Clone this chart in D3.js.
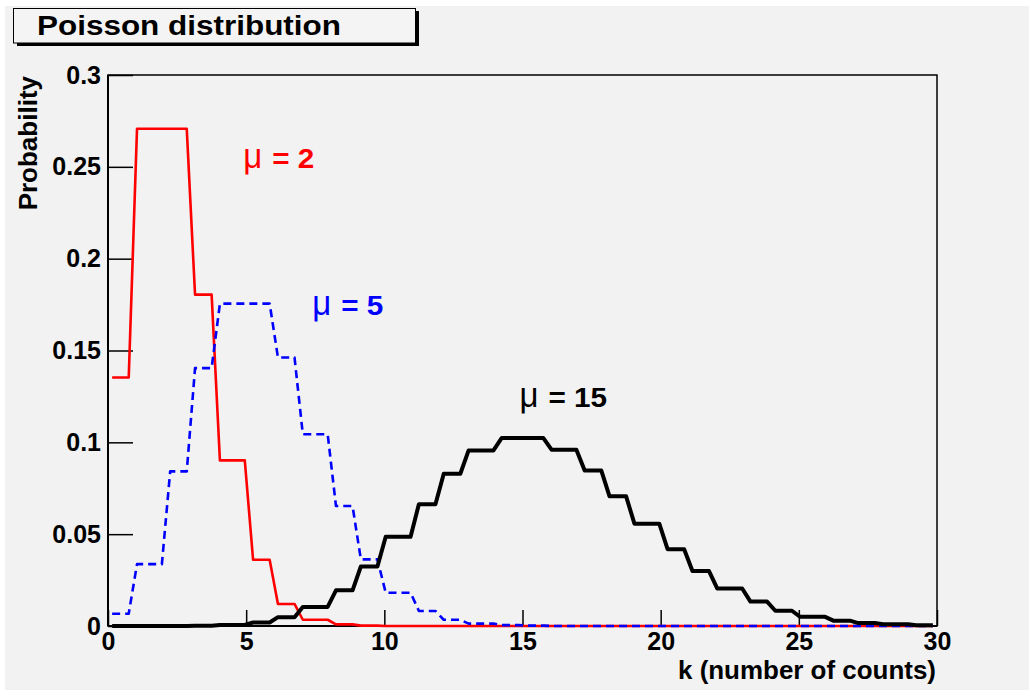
<!DOCTYPE html>
<html>
<head>
<meta charset="utf-8">
<script src="https://cdn.jsdelivr.net/npm/d3@7"></script>
<style>
  body { margin: 0; background: #ffffff; }
  svg { display: block; }
  text { font-family: Arial, "Liberation Sans", Helvetica, sans-serif; }
</style>
</head>
<body>
<svg width="1029" height="690"></svg>
<script>
    // P(k) for k = 0..29
    var kValues = [0, 1, 2, 3, 4, 5, 6, 7, 8, 9, 10, 11, 12, 13, 14,
                   15, 16, 17, 18, 19, 20, 21, 22, 23, 24, 25, 26, 27, 28, 29];
    var mu2 = [0.1353, 0.2707, 0.2707, 0.1804, 0.0902, 0.0361, 0.0120, 0.0034, 0.0009, 0.0002,
               0, 0, 0, 0, 0, 0, 0, 0, 0, 0, 0, 0, 0, 0, 0, 0, 0, 0, 0, 0];
    var mu5 = [0.0067, 0.0337, 0.0842, 0.1404, 0.1755, 0.1755, 0.1462, 0.1044, 0.0653, 0.0363,
               0.0181, 0.0082, 0.0034, 0.0013, 0.0005, 0.0002, 0, 0, 0, 0,
               0, 0, 0, 0, 0, 0, 0, 0, 0, 0];
    var mu15 = [0, 0, 0, 0.0002, 0.0006, 0.0019, 0.0048, 0.0104, 0.0194, 0.0324,
                0.0486, 0.0663, 0.0829, 0.0956, 0.1024, 0.1024, 0.0960, 0.0847, 0.0706, 0.0557,
                0.0418, 0.0299, 0.0204, 0.0133, 0.0083, 0.0050, 0.0029, 0.0016, 0.0009, 0.0004];

    var xMajor = [0, 5, 10, 15, 20, 25, 30];
    var yMajor = [0, 0.05, 0.1, 0.15, 0.2, 0.25, 0.3];
    var yLabels = ["0", "0.05", "0.1", "0.15", "0.2", "0.25", "0.3"];

    var series = [
        { name: "2",  values: mu2,  color: "#ff0000", width: 2.6, dash: null,  lx: 5,   ly: 0.25 },
        { name: "5",  values: mu5,  color: "#0000ff", width: 2.6, dash: "8,5", lx: 7.5, ly: 0.17 },
        { name: "15", values: mu15, color: "#000000", width: 4,   dash: null,  lx: 15,  ly: 0.12 }
    ];

    var nBins = 100;

    var svg = d3.select("svg");
    var x = d3.scaleLinear().domain([0, 30]).range([108, 937]);
    var y = d3.scaleLinear().domain([0, 0.3]).range([626, 75]);

    // pad background
    svg.append("rect")
        .attr("x", 5).attr("y", 6)
        .attr("width", 1024).attr("height", 684)
        .attr("fill", "#f2f2f2");

    // title box with shadow
    svg.append("rect")
        .attr("x", 17).attr("y", 11)
        .attr("width", 402).attr("height", 35)
        .attr("fill", "#000");
    svg.append("rect")
        .attr("x", 13.5).attr("y", 8.5)
        .attr("width", 402).attr("height", 34.5)
        .attr("fill", "#f4f4f4")
        .attr("stroke", "#000").attr("stroke-width", 1);
    svg.append("text")
        .attr("x", 37).attr("y", 35)
        .attr("font-size", 28).attr("font-weight", "bold")
        .attr("textLength", 304).attr("lengthAdjust", "spacingAndGlyphs")
        .text("Poisson distribution");

    // frame
    svg.append("rect")
        .attr("x", x(0)).attr("y", y(0.3))
        .attr("width", x(30) - x(0)).attr("height", y(0) - y(0.3))
        .attr("fill", "none").attr("stroke", "#000").attr("stroke-width", 1.5);

    // x axis
    var gx = svg.append("g").attr("transform", "translate(0," + y(0) + ")");
    gx.call(d3.axisBottom(x).tickValues(kValues.concat([30])).tickSize(-9).tickFormat(""));
    gx.call(d3.axisBottom(x).tickValues(xMajor).tickSize(-16).tickPadding(6).tickFormat(d3.format("d")));
    gx.selectAll(".domain").remove();
    gx.selectAll("line").attr("stroke", "#000").attr("stroke-width", 1.5);
    gx.selectAll("text")
        .attr("font-size", 25).attr("font-weight", "bold")
        .attr("font-family", "Arial, 'Liberation Sans', sans-serif")
        .attr("fill", "#000");

    // y axis
    var yMinor = d3.range(0, 31).map(function(i) { return i / 100; });
    var gy = svg.append("g").attr("transform", "translate(" + x(0) + ",0)");
    gy.call(d3.axisLeft(y).tickValues(yMinor).tickSize(-13).tickFormat(""));
    gy.call(d3.axisLeft(y).tickValues(yMajor).tickSize(-25).tickPadding(7)
        .tickFormat(function(d, i) { return yLabels[i]; }));
    gy.selectAll(".domain").remove();
    gy.selectAll("line").attr("stroke", "#000").attr("stroke-width", 1.5);
    gy.selectAll("text")
        .attr("font-size", 25).attr("font-weight", "bold")
        .attr("font-family", "Arial, 'Liberation Sans', sans-serif")
        .attr("fill", "#000");

    // axis lines
    svg.append("line")
        .attr("x1", x(0)).attr("x2", x(30)).attr("y1", y(0)).attr("y2", y(0))
        .attr("stroke", "#000").attr("stroke-width", 2);
    svg.append("line")
        .attr("x1", x(0)).attr("x2", x(0)).attr("y1", y(0)).attr("y2", y(0.3))
        .attr("stroke", "#000").attr("stroke-width", 2);

    // axis titles
    svg.append("text")
        .attr("x", 936).attr("y", 679)
        .attr("text-anchor", "end")
        .attr("font-size", 26).attr("font-weight", "bold")
        .attr("textLength", 258).attr("lengthAdjust", "spacingAndGlyphs")
        .text("k (number of counts)");
    svg.append("text")
        .attr("transform", "translate(37,76) rotate(-90)")
        .attr("text-anchor", "end")
        .attr("font-size", 26).attr("font-weight", "bold")
        .text("Probability");

    // histogram of nBins fine bins, each holding P(floor(center)), joined through bin centres
    function fineBins(values) {
        var w = 30 / nBins;
        var pts = [];
        for (var j = 0; j < nBins; j++) {
            var c = w / 2 + j * w;
            pts.push([c, values[Math.floor(c)]]);
        }
        return pts;
    }

    var line = d3.line()
        .x(function(d) { return x(d[0]); })
        .y(function(d) { return y(d[1]); });

    svg.selectAll("path.curve")
        .data(series)
        .enter()
        .append("path")
        .attr("class", "curve")
        .attr("d", function(d) { return line(fineBins(d.values)); })
        .attr("fill", "none")
        .attr("stroke", function(d) { return d.color; })
        .attr("stroke-width", function(d) { return d.width; })
        .attr("stroke-dasharray", function(d) { return d.dash; })
        .attr("stroke-linejoin", "round");

    // labels
    series.forEach(function(s) {
        var x0 = x(s.lx) - 3;
        var base = y(s.ly) + 1;
        svg.append("text")
            .attr("x", x0).attr("y", base)
            .attr("font-family", "'DejaVu Serif', 'Liberation Serif', serif")
            .attr("font-size", 35)
            .attr("fill", s.color)
            .attr("textLength", 19).attr("lengthAdjust", "spacingAndGlyphs")
            .text("\u03bc");
        var t = svg.append("text")
            .attr("x", x0 + 29).attr("y", base)
            .attr("font-size", 27).attr("font-weight", "bold")
            .attr("fill", s.color)
            .text("= " + s.name);
        var w = t.node().getComputedTextLength();
        t.attr("textLength", w * 1.1).attr("lengthAdjust", "spacingAndGlyphs");
    });
</script>
</body>
</html>
